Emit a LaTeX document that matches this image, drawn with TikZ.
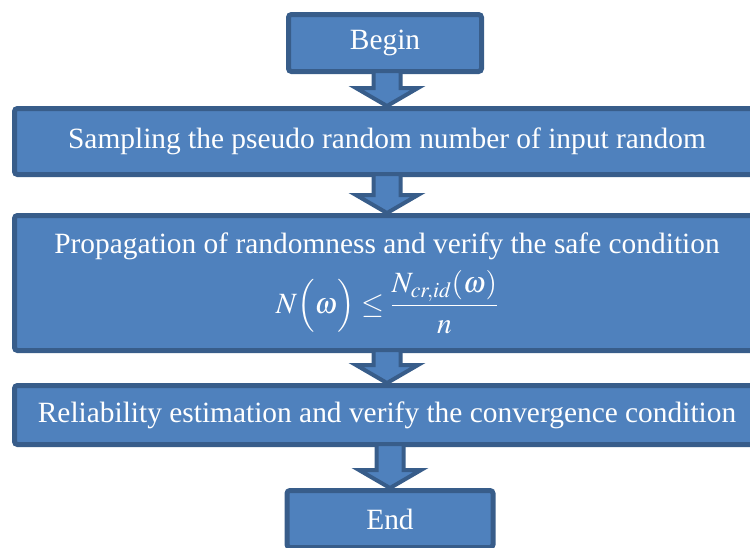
\documentclass[tikz,border=0pt]{standalone}
\usepackage{amsmath}
\usepackage{mathptmx}
\usepackage{fontspec}
\setmainfont{Liberation Serif}
\usetikzlibrary{calc}

\definecolor{boxblue}{HTML}{4F81BD}
\definecolor{boxedge}{HTML}{385D8A}

% block arrow from the bottom of one stage to the top of the next
\newcommand{\flowarrow}[2]{%
  \draw[blockarrow] let \p1=(#1.south), \p2=(#2.north) in
    (\x2-13.5pt,\y1+3pt) -- (\x2+13.5pt,\y1+3pt) -- (\x2+13.5pt,\y2+18pt)
    -- (\x2+31pt,\y2+18pt) -- (\x2,\y2) -- (\x2-31pt,\y2+18pt)
    -- (\x2-13.5pt,\y2+18pt) -- cycle;}

\begin{document}
\begin{tikzpicture}[
        x=1pt, y=-1pt,
        stage/.style={rectangle, draw=boxedge, fill=boxblue, line width=5pt, rounded corners=3pt, text=white, font=\fontsize{29.4}{36}\selectfont, align=center, inner sep=0pt},
        blockarrow/.style={draw=boxedge, fill=boxblue, line width=4pt, line join=miter},
    ]
        \clip (0,0) rectangle (750,547);

        % Stages
        \node[stage, minimum width=193pt, minimum height=57pt] (begin) at (385,43) {Begin};
        \node[stage, minimum width=745pt, minimum height=66pt] (sample) at (387,141.5) {Sampling the pseudo random number of input random};
        \node[stage, minimum width=745pt, minimum height=135pt] (propagate) at (387,283) {Propagation of randomness and verify the safe condition\\[10pt]
            $N\Bigl(\omega\Bigr)\le\dfrac{N_{cr,id}(\omega)}{n}$};
        \node[stage, minimum width=745pt, minimum height=59pt] (reliability) at (387,415) {Reliability estimation and verify the convergence condition};
        \node[stage, minimum width=206pt, minimum height=57pt] (end) at (390,519) {End};

        % Arrows
        \flowarrow{begin}{sample}
        \flowarrow{sample}{propagate}
        \flowarrow{propagate}{reliability}
        \flowarrow{reliability}{end}

    \end{tikzpicture}
\end{document}
